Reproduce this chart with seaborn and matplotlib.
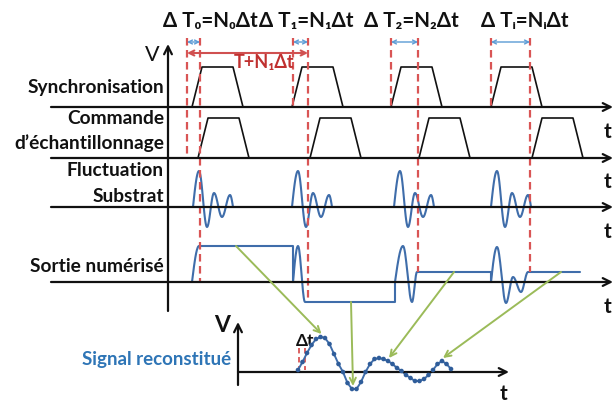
import numpy as np
import pandas as pd
import matplotlib
matplotlib.use("Agg")
import matplotlib.pyplot as plt
import seaborn as sns

# ---------------- data (schematic, in drawing units) ----------------
row_labels = ["Synchronisation", "Commande\nd\u2019\u00e9chantillonnage", "Fluctuation\nSubstrat", "Sortie num\u00e9ris\u00e9"]
row_base = [107, 158, 207, 282]              # baselines of the four traces

sync_starts = [192, 292, 391, 491]           # synchronisation pulse starts
cmd_starts = [198, 310, 419, 532]            # sampling-command pulse starts
pulse_shape_t = [0, 10, 41, 51]              # trapezoid corners (time offsets)
pulse_shape_v = [0, 40, 40, 0]               # trapezoid heights

dT_left = [187, 293, 391, 491]               # delay markers (start)
dT_right = [200, 308, 418, 530]              # delay markers (end)
dT_left_end = [157, 107, 107, 107]
dT_right_end = [282, 302, 272, 272]
dT_labels = ["\u0394 T\u2080=N\u2080\u0394t", "\u0394 T\u2081=N\u2081\u0394t",
             "\u0394 T\u2082=N\u2082\u0394t", "\u0394 T\u1d62=N\u1d62\u0394t"]

fluct_starts = [193, 292, 394, 491]          # substrate fluctuation bursts
fluct_t = [0, 6, 14, 21, 29, 37, 40]
fluct_v = [0, 36, -20, 14, -10, 12, 0]
fluct_m = [None, "s", "c", "c", "c", "c", "e"]

sortie_t = [192, 199, 293, 293, 298, 305, 395, 395, 403, 412, 417, 491, 491, 497, 506, 513, 521, 528, 580]
sortie_v = [0, 36, 36, 0, 36, -20, -20, 0, 36, -20, 10, 10, 0, 35, -21, 5, -10, 10, 10]
sortie_m = [None, "s", "l", "l", "s", "c", "l", "l", "s", "c", "c", "l", "l", "s", "c", "c", "c", "c", "l"]

# reconstructed signal samples (one per delta-t step)
signal_v = [2, 10, 19, 27, 33, 35, 34, 28, 18, 8, 0, -11, -17, -17, -10, 0, 8, 13, 14, 13,
            11, 8, 4, 1, -3, -6, -9, -9, -7, -3, 2, 8, 11, 8, 3]
signal_t0, signal_dt, signal_base = 298, 4.5, 372

arrow_src_t = [236, 351, 454, 561]           # where each sample is read on the output
arrow_src_v = [36, -20, 10, 10]
arrow_dst_idx = [5, 12, 20, 32]              # which reconstructed sample it becomes

# ---------------- style ----------------
sns.set_theme(style="white")
plt.rcParams['font.family'] = ['Lato', 'DejaVu Sans']
BLK = "#111111"
BLUE = "#3F6DAA"
RED = "#D95555"
GREEN = "#9BBB59"


def trace(xs, ys, modes, n=18):
    X, Y = [xs[0]], [ys[0]]
    for i in range(1, len(xs)):
        x0, x1, y0, y1 = xs[i - 1], xs[i], ys[i - 1], ys[i]
        t = np.linspace(0, 1, n)[1:]
        m = modes[i]
        if m == "l":
            f = t
        elif m == "s":
            f = np.sin(np.pi / 2 * t)
        elif m == "e":
            f = 1 - np.cos(np.pi / 2 * t)
        else:
            f = (1 - np.cos(np.pi * t)) / 2
        X.extend(x0 + (x1 - x0) * t)
        Y.extend(y0 + (y1 - y0) * f)
    return np.array(X), np.array(Y)


fig = plt.figure(figsize=(6.14, 4.03), dpi=100)
ax = fig.add_axes([0, 0, 1, 1])
ax.set_xlim(0, 614)
ax.set_ylim(403, 0)
ax.axis("off")


def arrow(x0, y0, x1, y1, style="->", color=BLK, lw=1.6, ms=14):
    ax.annotate("", xy=(x1, y1), xytext=(x0, y0),
                arrowprops=dict(arrowstyle=style, color=color, lw=lw,
                                mutation_scale=ms, shrinkA=0, shrinkB=0))

# main axes
for yb in row_base:
    arrow(51, yb, 613, yb)
arrow(168, 311, 168, 44)
ax.text(152, 55, "V", fontsize=15.5, ha="center", va="center", color=BLK)
for yt in [132, 182, 232, 307]:
    ax.text(608, yt, "t", fontsize=15, fontweight="bold", ha="center", va="center", color=BLK)

# row labels
lab_y = [[88], [118, 143], [171, 197], [267]]
for lab, ys in zip(row_labels, lab_y):
    for line, yy in zip(lab.split("\n"), ys):
        ax.text(164, yy, line, fontsize=13.8, fontweight="bold", ha="right", va="center", color=BLK)

# pulses
for s in sync_starts:
    ax.plot([s + t for t in pulse_shape_t], [row_base[0] - v for v in pulse_shape_v], color=BLK, lw=1.2)
for s in cmd_starts:
    ax.plot([s + t for t in pulse_shape_t], [row_base[1] - v for v in pulse_shape_v], color=BLK, lw=1.2)

# fluctuation bursts
for s in fluct_starts:
    X, Y = trace([s + t for t in fluct_t], fluct_v, fluct_m)
    ax.plot(X, row_base[2] - Y, color=BLUE, lw=1.5)

# digitised output
X, Y = trace(sortie_t, sortie_v, sortie_m)
ax.plot(X, row_base[3] - Y, color=BLUE, lw=1.5)

# delay markers
for xl, xr, yl, yr, lab in zip(dT_left, dT_right, dT_left_end, dT_right_end, dT_labels):
    ax.plot([xl, xl], [38, yl], color=RED, lw=1.6, dashes=(3.4, 2.0))
    ax.plot([xr, xr], [38, yr], color=RED, lw=1.6, dashes=(3.4, 2.0))
    arrow(xl, 42, xr, 42, style="<->", color="#5B9BD5", lw=1.0, ms=7)
for lab, x in zip(dT_labels, [163, 259, 364, 481]):
    ax.text(x, 21, lab, fontsize=14.8, fontweight="bold", ha="left", va="center", color=BLK)

arrow(dT_left[0], 53, dT_right[1], 53, style="<->", color="#D05050", lw=1.5, ms=9)
ax.text(264, 63, "T+N\u2081\u0394t", fontsize=13, fontweight="bold", ha="center", va="center", color="#C0302F")

# reconstructed signal
df = pd.DataFrame({"t": signal_t0 + signal_dt * np.arange(len(signal_v)),
                   "v": signal_base - np.array(signal_v)})
arrow(238, 385, 238, 322)
arrow(238, signal_base, 509, signal_base)
ax.text(222, 326, "V", fontsize=16.5, fontweight="bold", ha="center", va="center", color=BLK)
ax.text(503, 394, "t", fontsize=15, fontweight="bold", ha="center", va="center", color=BLK)
ax.text(231, 360, "Signal reconstitu\u00e9", fontsize=13.5, fontweight="bold", ha="right", va="center", color="#2E75B6")
ax.text(305, 341, "\u0394t", fontsize=12.5, fontweight="bold", ha="center", va="center", color=BLK)
for xd in [df.t[0] + 1, df.t[0] + 7]:
    ax.plot([xd, xd], [348, signal_base - 2], color=RED, lw=1.3, dashes=(3, 2))
sns.lineplot(data=df, x="t", y="v", ax=ax, color=BLUE, lw=1.4, sort=False)
sns.scatterplot(data=df, x="t", y="v", ax=ax, color="#2F5D9A", s=11, edgecolor="none", zorder=5)

# green sample arrows
for xs, vs, idx in zip(arrow_src_t, arrow_src_v, arrow_dst_idx):
    arrow(xs, row_base[3] - vs, df.t[idx] + 1, df.v[idx] - 3, style="->", color=GREEN, lw=1.4, ms=11)

ax.set_xlim(0, 614)
ax.set_ylim(403, 0)
ax.axis("off")
fig.savefig("out.png", dpi=100)
